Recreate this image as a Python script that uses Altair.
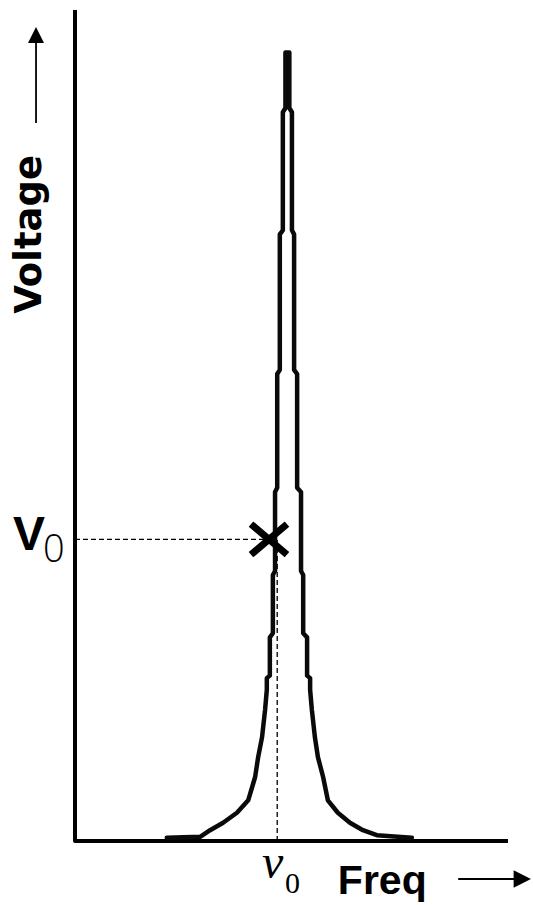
import altair as alt
import pandas as pd

# Resonance profile, traced as one path: left flank upward, right flank downward.
# Frequency and voltage in arbitrary units (axis spans 0..100 on both).
profile_freq = [21.2, 28.9, 31.2, 34.2, 37.4, 40.0, 41.6, 42.3, 43.2, 43.9, 44.3, 44.3,
                45.0, 45.0, 45.7, 45.7, 46.2, 46.2, 46.7, 46.7, 47.3, 47.3, 48.0, 48.0,
                48.6, 48.6,
                49.5, 49.5, 50.1, 50.1, 50.6, 50.6, 51.3, 51.3, 52.2, 52.2, 52.7, 52.7,
                53.6, 53.6, 54.3, 54.3, 54.7, 55.4, 56.1, 57.3, 58.4, 60.7, 63.5, 66.5,
                69.7, 77.8]
profile_volt = [0.4, 0.5, 1.3, 2.2, 3.4, 4.9, 7.7, 10.1, 12.5, 15.8, 18.2, 19.6,
                19.9, 24.5, 25.0, 32.0, 32.5, 42.0, 42.5, 56.2, 56.7, 73.0, 73.5, 87.7,
                88.2, 94.9,
                94.9, 88.2, 87.7, 73.5, 73.0, 56.7, 56.2, 42.5, 42.0, 32.5, 32.0, 25.0,
                24.5, 19.9, 19.6, 18.2, 15.8, 12.5, 10.1, 7.7, 4.9, 3.4, 2.2, 1.3,
                0.7, 0.4]

# Marked operating point and the resonance frequency
V0 = 36.3
MARK_FREQ = 44.8
NU0 = 46.7

# Frame (y axis up to the top, x axis out to the right)
frame_freq = [0, 0, 100]
frame_volt = [100, 0, 0]

xs = alt.Scale(domain=[0, 100], nice=False, zero=False)
ys = alt.Scale(domain=[0, 100], nice=False, zero=False)


def fx(field):
    return alt.X(field, type="quantitative", scale=xs, axis=None)


def fy(field):
    return alt.Y(field, type="quantitative", scale=ys, axis=None)


profile = pd.DataFrame({"f": profile_freq, "v": profile_volt,
                        "i": list(range(len(profile_freq)))})
frame = pd.DataFrame({"f": frame_freq, "v": frame_volt, "i": [0, 1, 2]})
point = pd.DataFrame({"f": [MARK_FREQ], "v": [V0], "nu": [NU0], "zero": [0.0]})

curve = alt.Chart(profile).mark_line(
    color="#0a0a0a", strokeWidth=4.5, strokeJoin="round", strokeCap="round"
).encode(x=fx("f"), y=fy("v"), order="i:Q")

axes = alt.Chart(frame).mark_line(
    color="black", strokeWidth=4, strokeJoin="round"
).encode(x=fx("f"), y=fy("v"), order="i:Q")

h_dash = alt.Chart(point).mark_rule(
    color="black", strokeWidth=1.3, strokeDash=[5, 3]
).encode(x=fx("zero"), x2="f:Q", y=fy("v"))

v_dash = alt.Chart(point).mark_rule(
    color="black", strokeWidth=1.3, strokeDash=[5, 3]
).encode(x=fx("nu"), y=fy("zero"), y2="v:Q")

cross = alt.Chart(point).mark_point(
    shape="M-1,-0.85L1,0.85M-1,0.85L1,-0.85", size=1296, filled=False,
    color="black", strokeWidth=7, opacity=1
).encode(x=fx("f"), y=fy("v"))

# Axis arrows beside the titles
arrows = pd.DataFrame({
    "f1": [-9.0, 88.5], "f2": [-9.0, 102.0],
    "v1": [86.4, -4.57], "v2": [96.5, -4.57],
})
arrow_lines = alt.Chart(arrows).mark_rule(color="black", strokeWidth=1.8).encode(
    x=fx("f1"), x2="f2:Q", y=fy("v1"), y2="v2:Q")

up_head = alt.Chart(pd.DataFrame({"f": [-9.0], "v": [97.0]})).mark_point(
    shape="M0,-1L-1,1L1,1Z", size=256, filled=True, color="black", opacity=1
).encode(x=fx("f"), y=fy("v"))

right_head = alt.Chart(pd.DataFrame({"f": [103.3], "v": [-4.57]})).mark_point(
    shape="M1,0L-1,-1L-1,1Z", size=300, filled=True, color="black", opacity=1
).encode(x=fx("f"), y=fy("v"))


def label(text, f, v, size, font="DejaVu Sans", align="left", baseline="alphabetic",
          angle=0, style="normal", weight="normal"):
    return alt.Chart(pd.DataFrame({"f": [f], "v": [v], "t": [text]})).mark_text(
        align=align, baseline=baseline, angle=angle, fontSize=size, font=font,
        fontStyle=style, fontWeight=weight, color="black"
    ).encode(x=fx("f"), y=fy("v"), text="t:N")


voltage_title = label("Voltage", -10.4, 73.0, 37, align="center", baseline="middle",
                      angle=270, weight="bold")
freq_title = label("Freq", 60.7, -6.4, 41, font="Liberation Sans", weight="bold")
v0_main = label("V", -14.3, 35.0, 48, font="Liberation Sans", weight="bold")
v0_sub = label("0", -7.4, 33.6, 38, font="Open Sans", weight=300)
nu0_main = label("\u03bd", 43.2, -4.45, 48, font="Liberation Serif", style="italic")
nu0_sub = label("0", 48.5, -6.26, 30, font="Liberation Serif")

chart = alt.layer(
    axes, h_dash, v_dash, curve, cross, arrow_lines, up_head, right_head,
    voltage_title, freq_title, v0_main, v0_sub, nu0_main, nu0_sub
).properties(
    width=433, height=831,
    padding={"left": 75, "top": 10, "right": 25, "bottom": 64},
    autosize=alt.AutoSizeParams(type="none"),
    background="white",
).configure_view(stroke=None)

chart.save("out.html", embed_options={"renderer": "svg", "actions": False})
